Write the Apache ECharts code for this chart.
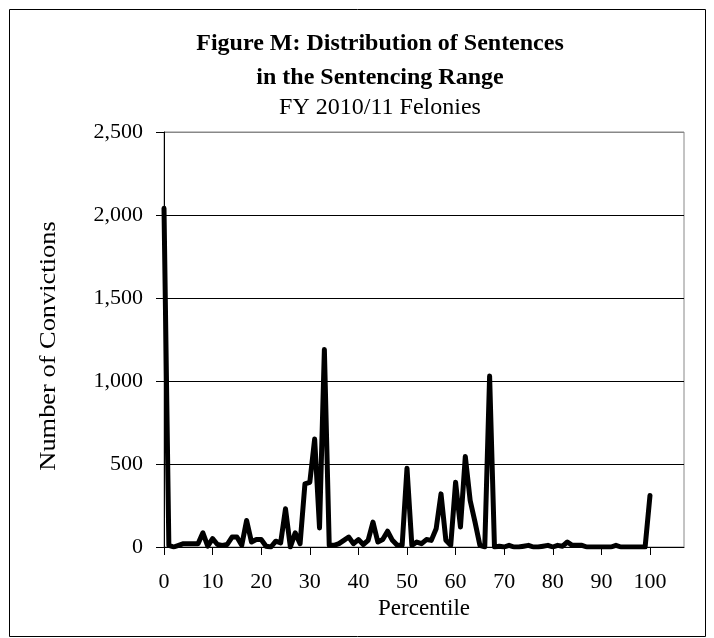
<!DOCTYPE html>
<html>
<head>
<meta charset="utf-8">
<script src="https://cdn.jsdelivr.net/npm/echarts@6/dist/echarts.min.js"></script>
<style>
html,body{margin:0;padding:0;background:#fff;}
#chart{width:714px;height:638px;}
</style>
</head>
<body>
<div id="chart"></div>
<script>
const percentiles = [];
for (let i = 0; i <= 100; i++) percentiles.push(i);
const convictions = [
  2040, 10, 0, 10, 20, 20, 20, 20, 85, 5,
  50, 15, 10, 15, 60, 60, 10, 160, 30, 45,
  45, 5, 0, 35, 25, 230, 0, 85, 20, 380,
  390, 650, 115, 1190, 10, 10, 20, 40, 60, 20,
  45, 15, 40, 150, 30, 45, 95, 40, 10, 10,
  475, 10, 30, 20, 45, 40, 110, 320, 40, 10,
  390, 120, 545, 280, 150, 10, 0, 1030, 0, 5,
  0, 10, 0, 0, 5, 10, 0, 0, 5, 10,
  0, 10, 5, 30, 10, 10, 10, 0, 0, 0,
  0, 0, 0, 10, 0, 0, 0, 0, 0, 0,
  310
];
const xTickValues = [0, 10, 20, 30, 40, 50, 60, 70, 80, 90, 100];
const yTickValues = [0, 500, 1000, 1500, 2000, 2500];
const titleLines = ['Figure M: Distribution of Sentences', 'in the Sentencing Range'];
const subtitle = 'FY 2010/11 Felonies';
const xName = 'Percentile';
const yName = 'Number of Convictions';

const FONT = '"Liberation Serif", "Times New Roman", serif';
const chart = echarts.init(document.getElementById('chart'));
chart.setOption({
  animation: false,
  backgroundColor: '#fff',
  grid: {left: 164, right: 30, top: 132, bottom: 91, show: true, borderColor: '#888', borderWidth: 1, backgroundColor: 'transparent'},
  graphic: [
    {type: 'rect', shape: {x: 9.5, y: 9.5, width: 696, height: 627}, style: {fill: 'none', stroke: '#000', lineWidth: 1}, silent: true},
    {type: 'text', x: 380, y: 44, style: {text: titleLines[0], font: 'bold 24px ' + FONT, fill: '#000', textAlign: 'center', textVerticalAlign: 'middle'}},
    {type: 'text', x: 380, y: 78, style: {text: titleLines[1], font: 'bold 24px ' + FONT, fill: '#000', textAlign: 'center', textVerticalAlign: 'middle'}},
    {type: 'text', x: 380, y: 108, style: {text: subtitle, font: '24px ' + FONT, fill: '#000', textAlign: 'center', textVerticalAlign: 'middle'}},
    {type: 'text', x: 49, y: 346, rotation: Math.PI / 2, scaleX: 1.1, style: {text: yName, font: '24px ' + FONT, fill: '#000', textAlign: 'center', textVerticalAlign: 'middle'}}
  ],
  xAxis: {
    type: 'value', min: 0, max: 107,
    name: xName, nameLocation: 'middle', nameGap: 31,
    nameTextStyle: {fontFamily: FONT, fontSize: 23, color: '#000'},
    axisLine: {show: true, onZero: false, lineStyle: {color: '#000', width: 1}},
    axisTick: {show: true, length: 8, customValues: xTickValues, lineStyle: {color: '#000'}},
    axisLabel: {customValues: xTickValues, margin: 24, fontFamily: FONT, fontSize: 22, color: '#000'},
    splitLine: {show: false}
  },
  yAxis: {
    type: 'value', min: 0, max: 2500, interval: 500,
    axisLine: {show: true, lineStyle: {color: '#000', width: 1}},
    axisTick: {show: true, length: 8, lineStyle: {color: '#000'}},
    axisLabel: {margin: 21, fontFamily: FONT, fontSize: 22, color: '#000',
      formatter: v => v.toLocaleString('en-US')},
    splitLine: {show: true, lineStyle: {color: ['#000', '#000', '#000', '#000', '#000', '#888'], width: 1}}
  },
  series: [{
    type: 'line',
    data: percentiles.map((p, i) => [p, convictions[i]]),
    showSymbol: false,
    lineStyle: {color: '#000', width: 5, cap: 'round', join: 'round'},
    itemStyle: {color: '#000'}
  }]
});
</script>
</body>
</html>
